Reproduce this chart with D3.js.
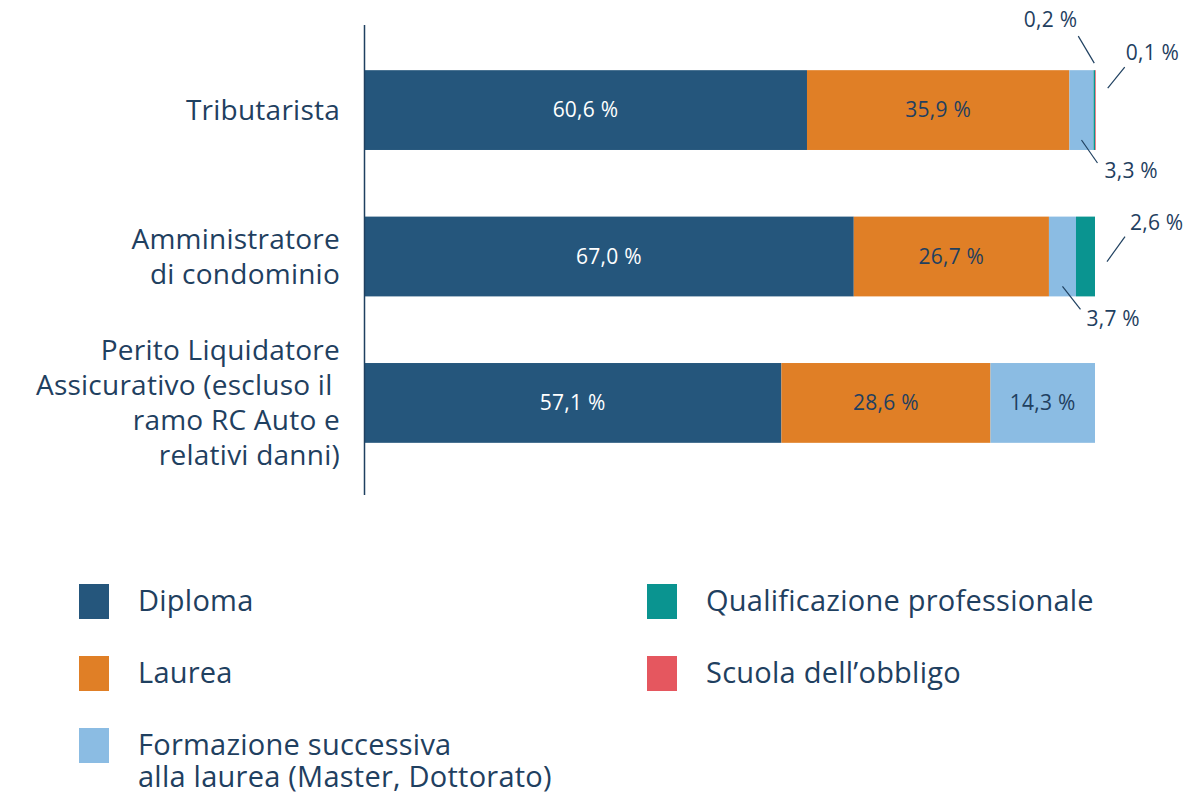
<!DOCTYPE html>
<html>
<head>
<meta charset="utf-8">
<script src="https://cdn.jsdelivr.net/npm/d3@7/dist/d3.min.js"></script>
<style>
  body { margin: 0; background: #fff; }
  svg { display: block; font-family: "Open Sans", "Noto Sans", sans-serif; letter-spacing: 0.015em; }
</style>
</head>
<body>
<div id="chart"></div>
<script>
// Categories (each entry is one label line)
const categories = ['Tributarista', 'Amministratore di condominio', 'Perito Liquidatore Assicurativo'];
const categoryLines = [
  ['Tributarista'],
  ['Amministratore', 'di condominio'],
  ['Perito Liquidatore', 'Assicurativo (escluso il ', 'ramo RC Auto e', 'relativi danni)']
];

// Series (percent per category)
const seriesNames = ['Diploma', 'Laurea', 'Formazione successiva alla laurea (Master, Dottorato)', 'Qualificazione professionale', 'Scuola dell\u2019obbligo'];
const diploma = [60.6, 67.0, 57.1];
const laurea = [35.9, 26.7, 28.6];
const formazione = [3.3, 3.7, 14.3];
const qualificazione = [0.2, 2.6, 0];
const scuola = [0.1, 0, 0];

const colors = ['#25567c', '#e07f26', '#8bbce3', '#0a9490', '#e5575f'];
const textColor = '#1f4060';

// Small segments get an outside label with a leader line
const calloutKeys = [
  { cat: 0, series: 2, at: 'bottom', dx: 16, dy: 23, lx: 7, ly: 8 },
  { cat: 0, series: 3, at: 'top', dx: -16, dy: -27, lx: -1, ly: -17 },
  { cat: 0, series: 4, at: 'right', dx: 17, dy: -21, lx: 1, ly: -15 },
  { cat: 1, series: 2, at: 'bottom', dx: 18, dy: 23, lx: 6, ly: 9 },
  { cat: 1, series: 3, at: 'right', dx: 18, dy: -25, lx: 5, ly: -14 }
];

const width = 1188, height = 796;
const svg = d3.select('#chart').append('svg')
  .attr('width', width)
  .attr('height', height);

const x = d3.scaleLinear().domain([0, 100]).range([364, 1095]);
const y = d3.scaleBand().domain(categories).range([36.5, 476.5]).paddingInner(0.455).paddingOuter(0.23);

const rows = categories.map((c, i) => [diploma[i], laurea[i], formazione[i], qualificazione[i], scuola[i]]);
const fmt = v => d3.format('.1f')(v).replace('.', ',') + ' %';

// Bars
rows.forEach((vals, i) => {
  let acc = 0;
  const g = svg.append('g');
  vals.forEach((v, s) => {
    const x0 = x(acc), x1 = x(acc + v);
    acc += v;
    if (v <= 0) return;
    g.append('rect')
      .attr('x', x0)
      .attr('y', y(categories[i]))
      .attr('width', x1 - x0)
      .attr('height', y.bandwidth())
      .attr('fill', colors[s]);
    if (v >= 10) {
      g.append('text')
        .attr('x', (x0 + x1) / 2)
        .attr('y', y(categories[i]) + y.bandwidth() / 2)
        .attr('dy', '0.35em')
        .attr('text-anchor', 'middle')
        .attr('font-size', 21)
        .attr('fill', s === 0 ? '#ffffff' : textColor)
        .text(fmt(v));
    }
  });
});

// Callouts for thin segments
calloutKeys.forEach(c => {
  const vals = rows[c.cat];
  const start = d3.sum(vals.slice(0, c.series));
  const v = vals[c.series];
  const x0 = x(start), x1 = x(start + v);
  const top = y(categories[c.cat]), bottom = top + y.bandwidth();
  let ax, ay;
  if (c.at === 'bottom') { ax = (x0 + x1) / 2; ay = bottom - 10; }
  else if (c.at === 'top') { ax = (x0 + x1) / 2; ay = top - 7; }
  else { ax = x1 + 12; ay = top + 18 + (c.cat === 1 ? 27 : 0); }
  const bx = ax + c.dx, by = ay + c.dy;
  svg.append('line')
    .attr('x1', ax).attr('y1', ay)
    .attr('x2', bx).attr('y2', by)
    .attr('stroke', textColor)
    .attr('stroke-width', 1.2);
  svg.append('text')
    .attr('x', bx + c.lx)
    .attr('y', by + c.ly)
    .attr('dy', '0.35em')
    .attr('text-anchor', c.lx < 0 ? 'end' : 'start')
    .attr('font-size', 21)
    .attr('fill', textColor)
    .text(fmt(v));
});

// Axis line
svg.append('line')
  .attr('x1', 364.5).attr('x2', 364.5)
  .attr('y1', 25).attr('y2', 495)
  .attr('stroke', textColor)
  .attr('stroke-width', 1.5);

// Category labels
categoryLines.forEach((lines, i) => {
  const cy = y(categories[i]) + y.bandwidth() / 2;
  const lh = 35;
  const t = svg.append('text')
    .attr('text-anchor', 'end')
    .attr('font-size', 28)
    .attr('fill', textColor);
  lines.forEach((ln, k) => {
    t.append('tspan')
      .attr('x', 340)
      .attr('y', cy + (k - (lines.length - 1) / 2) * lh)
      .attr('dy', '0.35em')
      .style('white-space', 'pre')
      .text(ln);
  });
});

// Legend
const legendItems = [
  { s: 0, col: 0, row: 0, lines: ['Diploma'] },
  { s: 1, col: 0, row: 1, lines: ['Laurea'] },
  { s: 2, col: 0, row: 2, lines: ['Formazione successiva', 'alla laurea (Master, Dottorato)'] },
  { s: 3, col: 1, row: 0, lines: ['Qualificazione professionale'] },
  { s: 4, col: 1, row: 1, lines: ['Scuola dell\u2019obbligo'] }
];
const legend = svg.append('g');
legendItems.forEach(d => {
  const lx = d.col === 0 ? 79 : 647;
  const ly = 601 + d.row * 72;
  legend.append('rect')
    .attr('x', lx).attr('y', ly - 17)
    .attr('width', 30).attr('height', 35)
    .attr('fill', colors[d.s]);
  d.lines.forEach((ln, k) => {
    legend.append('text')
      .attr('font-size', 29)
      .attr('fill', textColor)
      .attr('x', lx + 59)
      .attr('y', ly + k * 32)
      .attr('dy', '0.35em')
      .text(ln);
  });
});
</script>
</body>
</html>
